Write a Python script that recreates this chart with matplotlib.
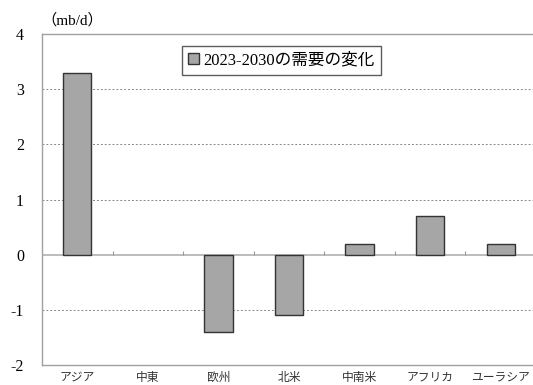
import numpy as np
import matplotlib
matplotlib.use("Agg")
from matplotlib import pyplot as plt

plt.rcParams['font.family'] = ['Liberation Serif', 'Noto Sans CJK JP']

regions = ['アジア', '中東', '欧州', '北米', '中南米', 'アフリカ', 'ユーラシア']
demand_change = [3.3, 0.0, -1.4, -1.1, 0.2, 0.7, 0.2]
series_name = '2023-2030の需要の変化'
y_ticks = [-2, -1, 0, 1, 2, 3, 4]

fig = plt.figure(figsize=(5.33, 3.85), dpi=100)
ax = fig.add_axes([42 / 533, 1 - 365 / 385, 494 / 533, 331 / 385])

x = np.arange(len(regions))
# zero-valued bars get no outline so they vanish into the zero line
edge_w = [1.0 if v != 0 else 0.0 for v in demand_change]
ax.bar(x, demand_change, width=0.4, color='#a6a6a6', edgecolor='#333333',
       linewidth=edge_w, label=series_name, zorder=3)

ax.set_xlim(-0.5, len(regions) - 0.5)
ax.set_ylim(-2, 4)
ax.set_yticks(y_ticks)
ax.set_yticklabels([str(v) for v in y_ticks], fontsize=11.5)
ax.tick_params(axis='y', length=0, pad=13)
ax.set_xticks(x)
ax.set_xticklabels(regions, fontsize=8.5, color='#333333')
ax.tick_params(axis='x', length=0, pad=5)

# dotted gridlines, solid zero line with small category dividers
for v in [-1, 1, 2, 3]:
    ax.axhline(v, color='#888888', linestyle=(0, (2, 2)), linewidth=0.7, zorder=1)
ax.axhline(0, color='#b0b0b0', linewidth=1.2, zorder=2)
ax.vlines(np.arange(0.5, len(regions) - 0.5), 0, 0.06, color='#999999',
          linewidth=0.8, zorder=2)

for s in ax.spines.values():
    s.set_color('#a0a0a0')
    s.set_linewidth(1.0)

ax.text(-0.002, 1.02, '（mb/d）', transform=ax.transAxes, fontsize=11,
        ha='left', va='bottom')

leg = ax.legend(loc='upper center', bbox_to_anchor=(0.485, 0.98), fontsize=12,
                frameon=True, fancybox=False, handlelength=0.65, handleheight=0.65,
                handletextpad=0.25, borderpad=0.4, borderaxespad=0.3)
leg.get_frame().set_edgecolor('#333333')
leg.get_frame().set_linewidth(1.0)

fig.savefig('out.png', dpi=100)
